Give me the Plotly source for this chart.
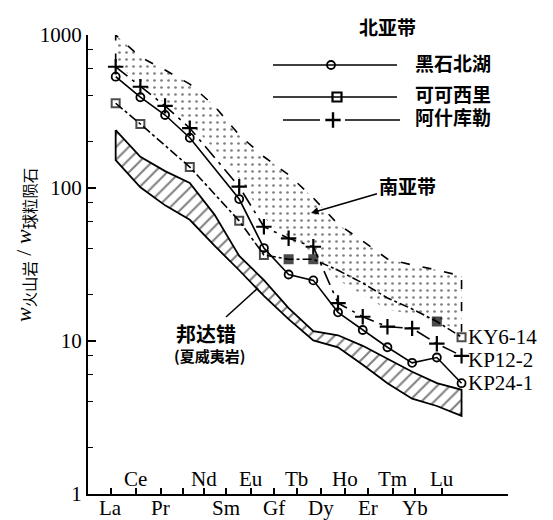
import plotly.graph_objects as go

# ---------------- data ----------------
ELEMENTS = ["La", "Ce", "Pr", "Nd", "Pm", "Sm", "Eu", "Gd", "Tb", "Dy", "Ho", "Er", "Tm", "Yb", "Lu"]

# 北亚带 samples (chondrite-normalised)
KP24_1 = [534, 392, 300, 213, None, 84.7, 40.5, 27.2, 24.9, 15.4, 11.8, 9.1, 7.2, 7.8, 5.3]      # 黑石北湖
KY6_14 = [358, 262, None, 137, None, 61, 36.5, 34.2, 34.2, 29, 23.9, 19.1, 16.2, 13.4, 10.6]     # 可可西里
KP12_2 = [620, 459, 344, 246, None, 102, 55.8, 46.9, 41.3, 17.7, 14.4, 12.4, 12.1, 9.6, 8.0]     # 阿什库勒

# 南亚带 field
SOUTH_UPPER = [1000, 718, 590, 478, 343, 222, 160, 122, 86, 58, 45, 34.4, 31.4, 29.1, 26.6]
SOUTH_LOWER = [660, 470, 360, 265, 180, 115, 64, 46, 38, 25, 20, 16, 15, 13.5, 11.5]

# 邦达错 (夏威夷岩) field
HATCH_UPPER = [239, 160, 129, 108, 67, 36, 25, 16.4, 11.6, 10.9, 9.3, 7.7, 6.3, 5.3, 4.8]
HATCH_LOWER = [152, 101, 77, 62, 42, 29, 19.7, 13.9, 10.1, 9.1, 7.0, 5.3, 4.2, 3.76, 3.24]

# axis tick labels as printed (15 ticks, the 4th unlabeled)
TICK_LABELS = ["La", "Ce", "Pr", "", "Nd", "Sm", "Eu", "Gf", "Tb", "Dy", "Ho", "Er", "Tm", "Yb", "Lu"]
Y_TICKS = [1, 10, 100, 1000]
Y_MINOR = [2, 4, 6, 8, 20, 40, 60, 80, 200, 400, 600, 800]

SERIES_NAMES = ["黑石北湖", "可可西里", "阿什库勒"]
SAMPLE_LABELS = ["KY6-14", "KP12-2", "KP24-1"]

# ---------------- layout constants ----------------
TICK_X = [-0.19, 0.82, 1.83, 2.72, 3.57, 4.46, 5.47, 6.39, 7.33, 8.30, 9.28, 10.21, 11.22, 12.12, 13.21]
ABOVE = [1, 4, 6, 8, 10, 12, 14]
BELOW = [0, 2, 5, 7, 9, 11, 13]

SERIF = "Liberation Serif"
CJK = "Noto Sans CJK SC"

PAGE = 8                       # default body margin of the html page
L, T, W, H = 88, 35, 420, 459  # plot area on screen (pixels)
FW, FH = 553 - PAGE, 520 - PAGE


def px(xp):
    return (xp - L) / W


def py(yp):
    return (T + H - yp) / H


xs = list(range(len(ELEMENTS)))

fig = go.Figure()

# 南亚带 dotted field
fig.add_trace(go.Scatter(
    x=xs + xs[::-1], y=SOUTH_UPPER + SOUTH_LOWER[::-1],
    fill="toself", mode="lines", line=dict(width=0, color="rgba(0,0,0,0)"),
    fillcolor="white",
    fillpattern=dict(shape=".", size=7, solidity=0.12, fgcolor="black", bgcolor="white"),
    hoverinfo="skip", showlegend=False))
# dashed outline of the 南亚带 field (left edge, top, right edge)
fig.add_trace(go.Scatter(
    x=[xs[0]] + xs + [xs[-1]], y=[SOUTH_LOWER[0]] + SOUTH_UPPER + [SOUTH_LOWER[-1]],
    mode="lines", line=dict(color="black", width=1.6, dash="9px,13px"),
    hoverinfo="skip", showlegend=False))

# 邦达错 hatched field
fig.add_trace(go.Scatter(
    x=xs + xs[::-1] + [xs[0]], y=HATCH_UPPER + HATCH_LOWER[::-1] + [HATCH_UPPER[0]],
    fill="toself", mode="lines", line=dict(color="black", width=1.8),
    fillcolor="white",
    fillpattern=dict(shape="/", size=9, solidity=0.22, fgcolor="black", bgcolor="white"),
    hoverinfo="skip", showlegend=False))

# samples
fig.add_trace(go.Scatter(
    x=xs, y=KP12_2, mode="lines+markers", connectgaps=True,
    line=dict(color="black", width=1.6, dash="longdashdot"),
    marker=dict(symbol="cross-thin", size=11, line=dict(color="black", width=2.2)),
    showlegend=False))

ky_sym = ["square-open", "square-open", "square-open", "square-open", "square-open", "square-open",
          "square-open", "square", "square", "square", "square", "square", "square", "square", "square-open"]
ky_size = [8, 8, 0, 8, 0, 8, 8, 8, 8, 0, 0, 0, 0, 8, 8]
fig.add_trace(go.Scatter(
    x=xs, y=KY6_14, mode="lines+markers", connectgaps=True,
    line=dict(color="black", width=1.6, dash="dashdot"),
    marker=dict(symbol=ky_sym, size=ky_size, color="black", line=dict(color="black", width=2)),
    showlegend=False))

fig.add_trace(go.Scatter(
    x=xs, y=KP24_1, mode="lines+markers", connectgaps=True,
    line=dict(color="black", width=1.6),
    marker=dict(symbol="circle-open", size=8, color="black", line=dict(color="black", width=1.8)),
    showlegend=False))

# ---------------- hand-made legend (overlay axes in plot fractions) ----------------
leg_y = [py(65), py(97), py(120)]
fig.add_trace(go.Scatter(x=[px(273), px(397)], y=[leg_y[0]] * 2, xaxis="x2", yaxis="y2", mode="lines",
                         line=dict(color="black", width=1.5), hoverinfo="skip", showlegend=False))
fig.add_trace(go.Scatter(x=[px(331)], y=[leg_y[0]], xaxis="x2", yaxis="y2", mode="markers",
                         marker=dict(symbol="circle-open", size=8, color="black", line=dict(width=1.8)),
                         hoverinfo="skip", showlegend=False))
fig.add_trace(go.Scatter(x=[px(273), px(397)], y=[leg_y[1]] * 2, xaxis="x2", yaxis="y2", mode="lines",
                         line=dict(color="black", width=1.3), hoverinfo="skip", showlegend=False))
fig.add_trace(go.Scatter(x=[px(337)], y=[leg_y[1]], xaxis="x2", yaxis="y2", mode="markers",
                         marker=dict(symbol="square-open", size=9, color="black", line=dict(width=2.2)),
                         hoverinfo="skip", showlegend=False))
fig.add_trace(go.Scatter(x=[px(283), px(320), None, px(345), px(400)], y=[leg_y[2]] * 5,
                         xaxis="x2", yaxis="y2", mode="lines",
                         line=dict(color="black", width=1.5), hoverinfo="skip", showlegend=False))
fig.add_trace(go.Scatter(x=[px(333)], y=[leg_y[2]], xaxis="x2", yaxis="y2", mode="markers",
                         marker=dict(symbol="cross-thin", size=11, line=dict(color="black", width=2.4)),
                         hoverinfo="skip", showlegend=False))


def note(x, y, text, size, family=CJK, xanchor="center", xref="paper", **kw):
    return dict(x=x, y=y, xref=xref, yref="paper", text=text, showarrow=False,
                xanchor=xanchor, yanchor="middle", font=dict(family=family, size=size, color="black"), **kw)


annotations = [note(px(387), py(27), "<b>北亚带</b>", 19)]
for name, yp in zip(SERIES_NAMES, [62, 94, 117]):
    annotations.append(note(px(413), py(yp), "<b>%s</b>" % name, 19, xanchor="left"))

# element labels: upper row inside the plot, lower row under the axis
for i in ABOVE:
    annotations.append(note(TICK_X[i], py(479), TICK_LABELS[i], 21, family=SERIF, xref="x"))
for i in BELOW:
    annotations.append(note(TICK_X[i], py(508), TICK_LABELS[i], 21, family=SERIF, xref="x"))

# sample labels at Lu
for lab, yp in zip(SAMPLE_LABELS, [337, 360, 383]):
    annotations.append(note(px(466), py(yp), lab, 21, family=SERIF, xanchor="left"))

# 南亚带 label with arrow
annotations.append(dict(x=px(311), y=py(213), xref="paper", yref="paper",
                        text="<b>南亚带</b>", showarrow=True, ax=96, ay=-28,
                        arrowhead=2, arrowsize=1, arrowwidth=1.5, arrowcolor="black",
                        font=dict(family=CJK, size=19, color="black")))
# 邦达错 label
annotations.append(note(px(206), py(333), "<b>邦达错</b>", 20))
annotations.append(note(px(209), py(355), "<b>(夏威夷岩)</b>", 15))

# y-axis title
annotations.append(note(px(25), py(245), "<i>w</i><sub>火山岩</sub> / <i>w</i><sub>球粒陨石</sub>",
                        22, family=SERIF + ", " + CJK, textangle=-90))

shapes = [dict(type="line", xref="paper", yref="paper",
               x0=px(226), y0=py(317), x1=px(258), y1=py(288),
               line=dict(color="black", width=1.5))]

fig.update_layout(
    width=FW, height=FH,
    margin=dict(l=L - PAGE, r=FW - (L - PAGE) - W, t=T - PAGE, b=FH - (T - PAGE) - H, autoexpand=False),
    paper_bgcolor="white", plot_bgcolor="white",
    showlegend=False,
    annotations=annotations, shapes=shapes,
    xaxis=dict(range=[-1.12, 15.88], tickmode="array", tickvals=TICK_X, showticklabels=False,
               ticks="inside", ticklen=6, tickwidth=1.5, tickcolor="black", automargin=False,
               showline=True, linecolor="black", linewidth=2, showgrid=False, zeroline=False),
    yaxis=dict(type="log", range=[0, 3], tickmode="array", tickvals=Y_TICKS,
               ticktext=[str(v) for v in Y_TICKS], automargin=False,
               ticks="inside", ticklen=8, tickwidth=1.5, tickcolor="black",
               minor=dict(tickvals=Y_MINOR, ticks="inside", ticklen=5, tickwidth=1.3, tickcolor="black"),
               showline=True, linecolor="black", linewidth=2, showgrid=False, zeroline=False,
               tickfont=dict(family=SERIF, size=21, color="black")),
    xaxis2=dict(overlaying="x", range=[0, 1], visible=False),
    yaxis2=dict(overlaying="y", range=[0, 1], visible=False),
)

fig.write_html("out.html")
